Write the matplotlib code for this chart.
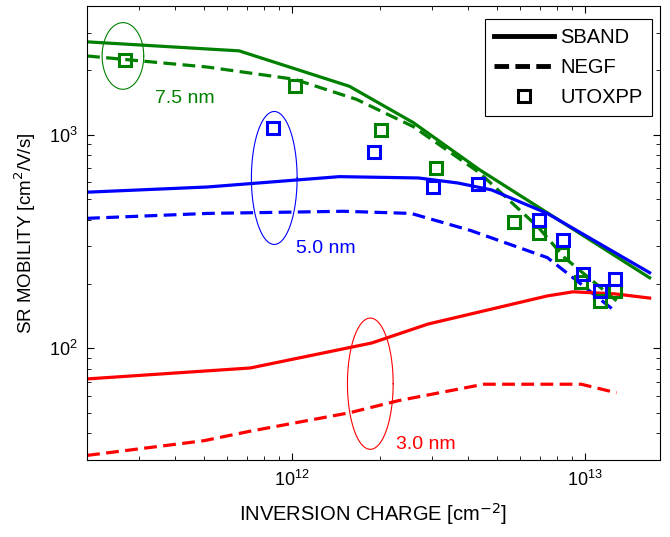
import numpy as np
import matplotlib.pyplot as plt
from matplotlib.lines import Line2D

plt.rcParams['font.family'] = ['Liberation Sans', 'DejaVu Sans']

GREEN = "#008000"
BLUE = "#0000ff"
RED = "#ff0000"

# 7.5 nm
g_sband_x = [2.0e11, 6.6e11, 1.57e12, 2.59e12, 4.37e12, 7.2e12, 1.66e13]
g_sband_y = [2716, 2465, 1683, 1139, 684, 443, 214]
g_negf_x = [2.0e11, 5.15e11, 1.02e12, 1.66e12, 2.59e12, 4.37e12, 6.93e12, 8.5e12, 1.28e13]
g_negf_y = [2333, 2070, 1815, 1462, 1091, 662, 368, 266, 167]
g_utox_x = [2.7e11, 1.02e12, 2.02e12, 3.1e12, 5.7e12, 6.98e12, 8.36e12, 9.7e12, 1.12e13, 1.26e13]
g_utox_y = [2233, 1683, 1056, 699, 389, 348, 277, 205, 167, 186]

# 5.0 nm
b_sband_x = [2.0e11, 5.15e11, 1.45e12, 2.7e12, 3.68e12, 4.8e12, 7.43e12, 1.66e13]
b_sband_y = [538, 569, 636, 627, 594, 551, 428, 226]
b_negf_x = [2.0e11, 5.15e11, 1.5e12, 2.55e12, 4.07e12, 7.43e12, 9.1e12, 1.26e13]
b_negf_y = [406, 428, 438, 428, 356, 266, 214, 150]
b_utox_x = [8.6e11, 1.91e12, 3.03e12, 4.3e12, 6.98e12, 8.4e12, 9.8e12, 1.12e13, 1.26e13]
b_utox_y = [1079, 832, 569, 587, 397, 323, 223, 186, 211]

# 3.0 nm
r_sband_x = [2.0e11, 7.2e11, 1.87e12, 2.91e12, 7.43e12, 9.1e12, 1.26e13, 1.66e13]
r_sband_y = [72, 81, 106, 130, 176, 184, 180, 172]
r_negf_x = [2.0e11, 5.0e11, 7.2e11, 1.57e12, 2.31e12, 4.51e12, 5.7e12, 9.7e12, 1.28e13]
r_negf_y = [31.6, 37, 41, 50, 57, 68, 68, 68, 62]

# ellipse annotations: centre (x, y), half-sizes in decades, label position
ellipses = [
    (GREEN, (2.65e11, 2333), 0.071, 0.156, "7.5 nm", (4.3e11, 1479)),
    (BLUE, (8.7e11, 627), 0.078, 0.311, "5.0 nm", (1.3e12, 293)),
    (RED, (1.85e12, 68.4), 0.078, 0.307, "3.0 nm", (2.87e12, 35.6)),
]

fig = plt.figure(figsize=(6.7, 5.37), dpi=100)
ax = fig.add_axes([0.130, 0.143, 0.855, 0.846])

lw = 2.3
dash = (0, (4.0, 2.0))
ms = 9
for col, sx, sy, nx, ny in [
        (GREEN, g_sband_x, g_sband_y, g_negf_x, g_negf_y),
        (BLUE, b_sband_x, b_sband_y, b_negf_x, b_negf_y),
        (RED, r_sband_x, r_sband_y, r_negf_x, r_negf_y)]:
    ax.plot(sx, sy, color=col, lw=lw)
    ax.plot(nx, ny, color=col, lw=lw, ls=dash)

ax.plot(g_utox_x, g_utox_y, ls="none", marker="s", ms=ms, mfc="none",
        mec=GREEN, mew=2.2)
ax.plot(b_utox_x, b_utox_y, ls="none", marker="s", ms=ms, mfc="none",
        mec=BLUE, mew=2.2)

t = np.linspace(0, 2 * np.pi, 200)
for col, (cx, cy), a, b, lab, (tx, ty) in ellipses:
    ex = 10 ** (np.log10(cx) + a * np.cos(t))
    ey = 10 ** (np.log10(cy) + b * np.sin(t))
    ax.plot(ex, ey, color=col, lw=0.8)
    ax.text(tx, ty, lab, color=col, fontsize=14, ha="center", va="center")

ax.set_xscale("log")
ax.set_yscale("log")
ax.set_xlim(2e11, 1.8e13)
ax.set_ylim(30, 4000)
ax.set_xticks([1e12, 1e13])
ax.set_yticks([1e2, 1e3])
ax.tick_params(which="both", direction="in", top=True, right=True, labelsize=13)
ax.tick_params(which="major", length=5, pad=7)
ax.tick_params(which="minor", length=3)
ax.set_xlabel("INVERSION CHARGE [cm$^{-2}$]", fontsize=14.5, labelpad=8)
ax.set_ylabel("SR MOBILITY [cm$^2$/V/s]", fontsize=13.5, labelpad=8)

handles = [
    Line2D([], [], color="black", lw=3.5),
    Line2D([], [], color="black", lw=3.5, ls=(0, (3, 1.3))),
    Line2D([], [], ls="none", marker="s", ms=9, mfc="none", mec="black", mew=2.2),
]
leg = ax.legend(handles, ["SBAND", "NEGF", "UTOXPP"], loc="upper right",
                fontsize=14.5, fancybox=False, framealpha=1, edgecolor="black",
                handlelength=3.0, handletextpad=0.3, borderpad=0.45,
                labelspacing=0.55, bbox_to_anchor=(1.003, 0.993))
leg.get_frame().set_linewidth(0.8)

fig.savefig("out.png", dpi=100)
